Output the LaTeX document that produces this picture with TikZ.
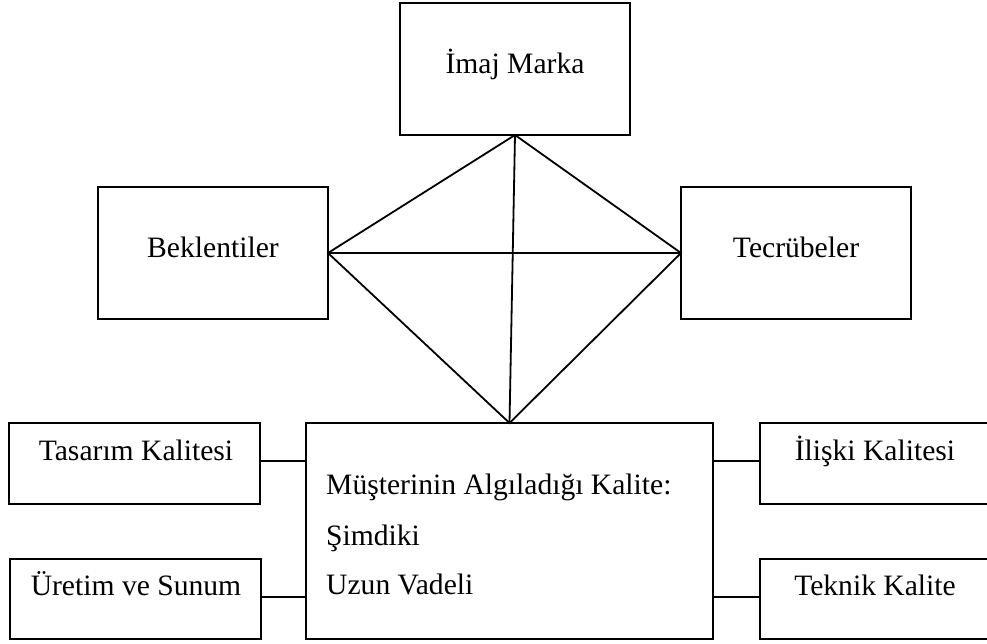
\documentclass[tikz,border=0pt]{standalone}
\usepackage{fontspec}
\setmainfont{Liberation Serif}
\begin{document}
\begin{tikzpicture}[x=1pt,y=-1pt,
  box/.style={draw, line width=1.9pt, inner sep=0pt, outer sep=0pt},
  lbl/.style={anchor=base, inner sep=0pt, font=\fontsize{29.6}{35}\selectfont},
  lblw/.style={lbl, anchor=base west},
  link/.style={line width=1.8pt}]
\useasboundingbox (0,0) rectangle (987,644);
\clip (0,0) rectangle (987,644);
% boxes
\node[box, minimum width=230, minimum height=132] (imaj) at (515,69) {};
\node[box, minimum width=230, minimum height=132] (bek) at (213,253) {};
\node[box, minimum width=230, minimum height=132] (tec) at (796,253) {};
\node[box, minimum width=251, minimum height=81] (tas) at (134.5,463.5) {};
\node[box, minimum width=251, minimum height=80] (ure) at (135.5,599) {};
\node[box, minimum width=407, minimum height=216] (mus) at (509.5,531) {};
\node[box, minimum width=230, minimum height=81] (ili) at (875,463.5) {};
\node[box, minimum width=230, minimum height=80] (tek) at (875,599) {};
% texts
\node[lbl] (imajt) at (515,74) {İmaj Marka};
\node[lbl] (bekt) at (213,258) {Beklentiler};
\node[lbl] (tect) at (796,258) {Tecrübeler};
\node[lbl] (tast) at (136,460) {Tasarım Kalitesi};
\node[lbl] (uret) at (136,595) {Üretim ve Sunum};
\node[lbl] (ilit) at (875,460) {İlişki Kalitesi};
\node[lbl] (tekt) at (875,595) {Teknik Kalite};
\node[lblw] (must1) at (326,494) {Müşterinin Algıladığı Kalite:};
\node[lblw] (must2) at (326,545) {Şimdiki};
\node[lblw] (must3) at (326,594) {Uzun Vadeli};
% diamond
\draw[link, line join=miter] (imaj.south) -- (bek.east) -- (mus.north) -- (tec.west) -- cycle;
\draw[link] (imaj.south) -- (mus.north);
\draw[link] (bek.east) -- (tec.west);
% side connectors
\draw[link] ([yshift=2.5pt]tas.east) -- ([yshift=2.5pt]tas.east -| mus.west);
\draw[link] ([yshift=2pt]ure.east) -- ([yshift=2pt]ure.east -| mus.west);
\draw[link] ([yshift=2.5pt]mus.east |- ili.west) -- ([yshift=2.5pt]ili.west);
\draw[link] ([yshift=2pt]mus.east |- tek.west) -- ([yshift=2pt]tek.west);
\end{tikzpicture}
\end{document}
